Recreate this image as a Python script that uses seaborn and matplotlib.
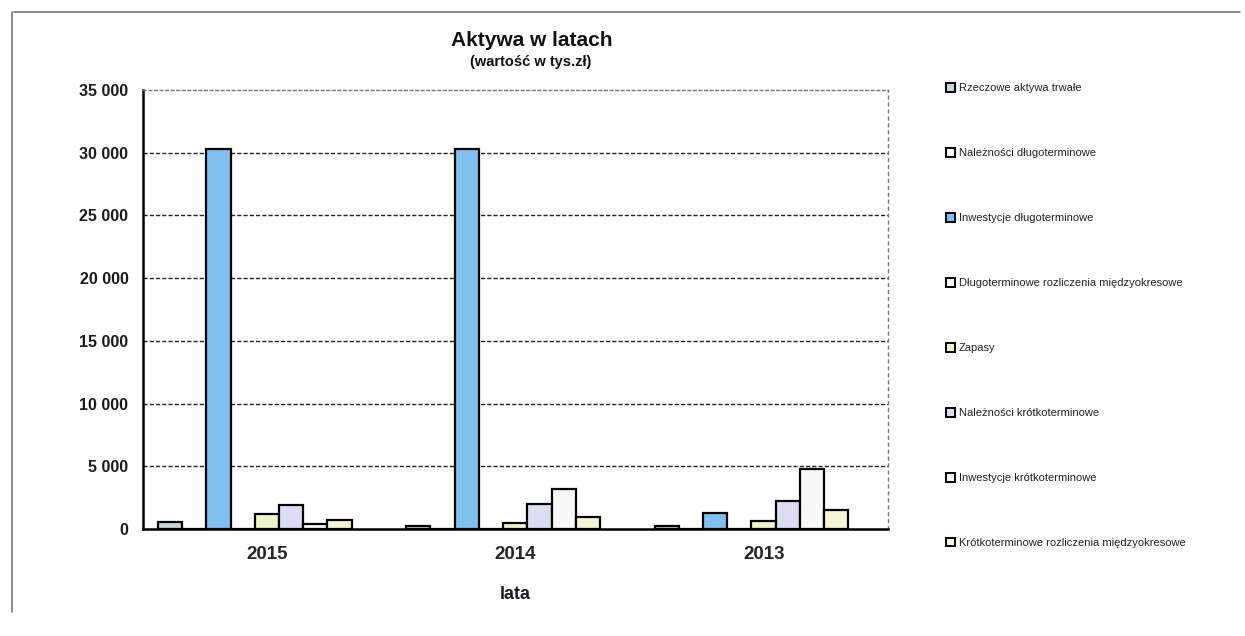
import matplotlib
matplotlib.use("Agg")
import matplotlib.pyplot as plt
from matplotlib.patches import Patch
from matplotlib.lines import Line2D
from matplotlib.ticker import FuncFormatter, MultipleLocator
import seaborn as sns
import pandas as pd

# Categories (years) and balance-sheet asset items
lata = ["2015", "2014", "2013"]
pozycje = [
    "Rzeczowe aktywa trwałe",
    "Należności długoterminowe",
    "Inwestycje długoterminowe",
    "Długoterminowe rozliczenia międzyokresowe",
    "Zapasy",
    "Należności krótkoterminowe",
    "Inwestycje krótkoterminowe",
    "Krótkoterminowe rozliczenia międzyokresowe",
]

# Values in thousands of PLN, one list per item (2015, 2014, 2013)
rzeczowe_aktywa = [550, 250, 250]
naleznosci_dlugo = [0, 0, 0]
inwestycje_dlugo = [30300, 30300, 1300]
rozliczenia_dlugo = [0, 0, 0]
zapasy = [1200, 450, 600]
naleznosci_krotko = [1950, 2000, 2200]
inwestycje_krotko = [400, 3200, 4800]
rozliczenia_krotko = [700, 950, 1500]

wartosci = [rzeczowe_aktywa, naleznosci_dlugo, inwestycje_dlugo, rozliczenia_dlugo,
            zapasy, naleznosci_krotko, inwestycje_krotko, rozliczenia_krotko]

kolory = ["#c9d3da", "#ffffff", "#80c0f0", "#ffffff",
          "#eef4c8", "#dcdcf4", "#f8f8f8", "#f4f4d6"]

rows = []
for nazwa, vals in zip(pozycje, wartosci):
    for rok, v in zip(lata, vals):
        rows.append({"rok": rok, "pozycja": nazwa, "wartosc": v})
df = pd.DataFrame(rows)

sns.set_theme(style="white")
plt.rcParams["font.family"] = ["Liberation Sans", "DejaVu Sans"]

fig = plt.figure(figsize=(12.45, 6.36), dpi=100)
fig.patch.set_facecolor("white")
ax = fig.add_axes([143 / 1245, 1 - 529 / 636, (888 - 143) / 1245, (529 - 90) / 636])

sns.barplot(data=df, x="rok", y="wartosc", hue="pozycja", order=lata,
            hue_order=pozycje, palette=kolory, width=0.78, gap=0,
            edgecolor="black", linewidth=1.6, saturation=1, errorbar=None,
            legend=False, ax=ax)

# Axes limits, gridlines and ticks
ax.set_xlim(-0.45, 2.55)
ax.set_ylim(0, 35000)
ax.yaxis.set_major_locator(MultipleLocator(5000))
ax.yaxis.set_major_formatter(FuncFormatter(lambda v, p: f"{int(v):,}".replace(",", " ")))
for y in range(5000, 35000, 5000):
    ax.axhline(y, color="#222222", lw=1.0, ls=(0, (3, 1.5)), zorder=0)

ax.set_xticks([0.05, 1.05, 2.05])
ax.set_xticklabels(lata, fontsize=13.5, fontweight="bold")
ax.tick_params(axis="x", length=0, pad=12)
ax.set_xticks([-0.45, 0.55, 1.55, 2.55], minor=True)
ax.tick_params(axis="x", which="minor", length=6, width=1.3, direction="out", color="black")
ax.tick_params(axis="y", length=9, width=1.3, direction="inout", color="black", pad=6)
for lab in ax.get_yticklabels():
    lab.set_fontsize(11.5)
    lab.set_fontweight("bold")
    lab.set_color("#1a1a1a")

ax.set_xlabel("lata", fontsize=13, fontweight="bold", color="#1a1a2e", labelpad=17)
ax.set_ylabel("")

ax.spines["left"].set_color("black")
ax.spines["left"].set_linewidth(1.8)
ax.spines["bottom"].set_color("black")
ax.spines["bottom"].set_linewidth(1.8)
ax.spines["top"].set_color("#777777")
ax.spines["top"].set_linewidth(1.0)
ax.spines["top"].set_linestyle((0, (2, 2)))
ax.spines["right"].set_color("#777777")
ax.spines["right"].set_linewidth(1.0)
ax.spines["right"].set_linestyle((0, (2, 3)))

# Titles
fig.text(532 / 1245, 1 - 40 / 636, "Aktywa w latach", ha="center", va="center",
         fontsize=15, fontweight="bold", color="#111111")
fig.text(531 / 1245, 1 - 62 / 636, "(wartość w tys.zł)", ha="center", va="center",
         fontsize=10.5, fontweight="bold", color="#111111")

# Legend
handles = [Patch(facecolor=c, edgecolor="black", linewidth=1.4) for c in kolory]
ax.legend(handles, pozycje, loc="upper left", bbox_to_anchor=(946 / 1245, 1 - 83 / 636),
          bbox_transform=fig.transFigure, frameon=False, fontsize=8,
          handlelength=0.85, handleheight=0.85, handletextpad=0.3,
          labelspacing=4.92, borderpad=0, borderaxespad=0, labelcolor="#222222")

# Outer chart border
fig.add_artist(Line2D([14 / 1245, 1240 / 1245], [1 - 12 / 636, 1 - 12 / 636],
                      transform=fig.transFigure, color="#777777", lw=1.2))
fig.add_artist(Line2D([12 / 1245, 12 / 1245], [1 - 12 / 636, 1 - 612 / 636],
                      transform=fig.transFigure, color="#777777", lw=1.2))

fig.savefig("out.png", dpi=100, facecolor="white")
